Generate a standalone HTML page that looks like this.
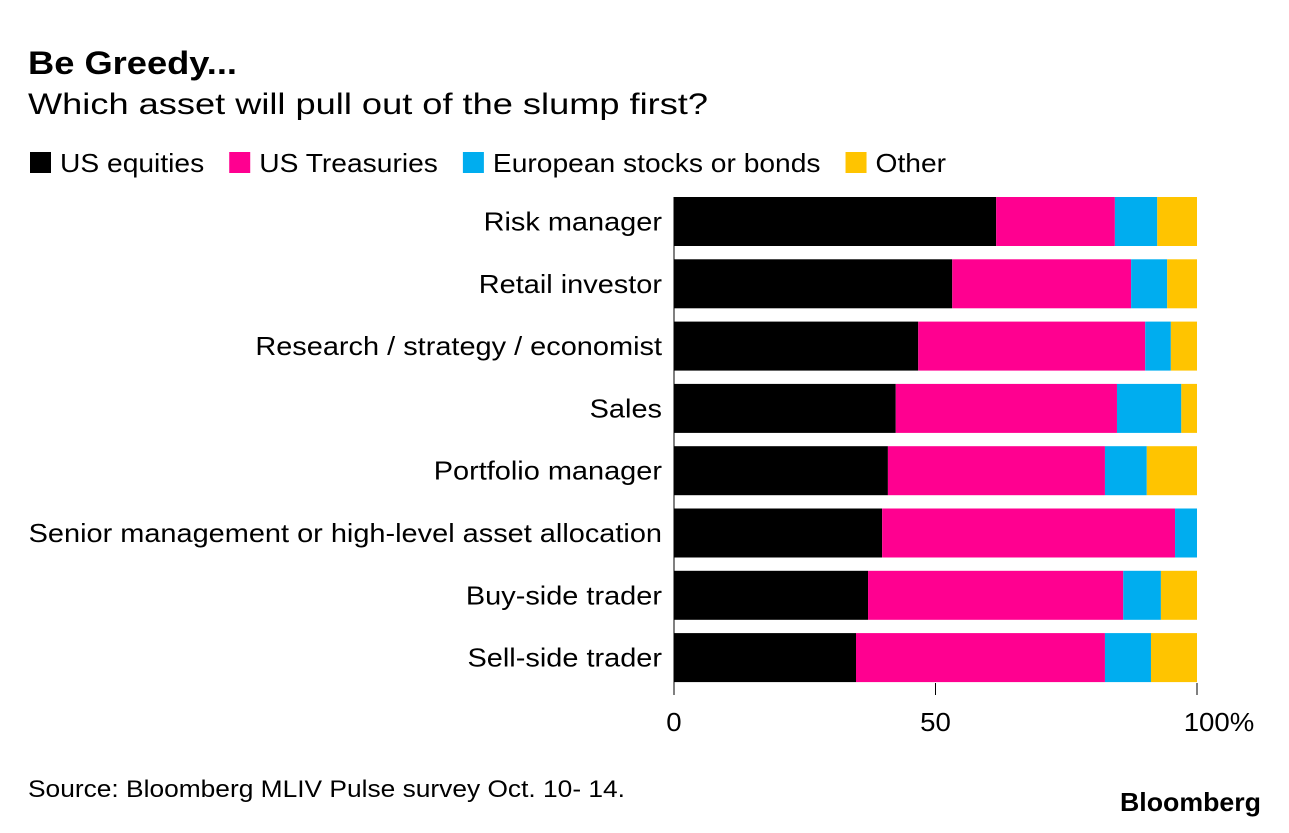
<!DOCTYPE html>
<html><head><meta charset="utf-8"><style>
body{margin:0;background:#fff;font-family:"Liberation Sans",sans-serif;}
svg text{font-family:"Liberation Sans",sans-serif;}
</style></head><body>
<svg id="c" width="1289" height="828" xmlns="http://www.w3.org/2000/svg">
<text x="28" y="74" font-size="32" font-weight="bold" fill="#000" textLength="209" lengthAdjust="spacingAndGlyphs">Be Greedy...</text>
<text x="28" y="114" font-size="30" fill="#000" textLength="680" lengthAdjust="spacingAndGlyphs">Which asset will pull out of the slump first?</text>
<g id="legend"></g>
<g id="bars"></g>
<g id="axis"></g>
<text x="28" y="797" font-size="24" fill="#000" textLength="597" lengthAdjust="spacingAndGlyphs">Source: Bloomberg MLIV Pulse survey Oct. 10- 14.</text>
<text x="1261" y="811" font-size="26" font-weight="bold" text-anchor="end" fill="#000" textLength="141" lengthAdjust="spacingAndGlyphs">Bloomberg</text>
</svg>
<script>
const categories=["Risk manager","Retail investor","Research / strategy / economist","Sales","Portfolio manager","Senior management or high-level asset allocation","Buy-side trader","Sell-side trader"];
const seriesNames=["US equities","US Treasuries","European stocks or bonds","Other"];
const usEquities=[61.6,53.2,46.7,42.4,40.9,39.8,37.1,34.8];
const usTreasuries=[22.7,34.2,43.4,42.3,41.5,56.0,48.8,47.6];
const european=[8.1,6.9,4.9,12.3,8.0,4.2,7.2,8.8];
const other=[7.6,5.7,5.0,3.0,9.6,0,6.9,8.8];
const ticks=[0,50,100];
const tickLabels=["0","50","100%"];
const colors=["#000000","#ff0090","#00adef","#ffc400"];
const ns="http://www.w3.org/2000/svg";
const x0=674,x1=1197,top0=197,pitch=62.3,bh=49;
const xs=v=>x0+(x1-x0)*v/100;
function mk(t,a,p){const e=document.createElementNS(ns,t);for(const k in a)e.setAttribute(k,a[k]);p.appendChild(e);return e;}
function stretch(t,K){const w=t.getComputedTextLength()*K;t.setAttribute('textLength',w);t.setAttribute('lengthAdjust','spacingAndGlyphs');return w;}
const series=[usEquities,usTreasuries,european,other];
const bars=document.getElementById('bars');
categories.forEach((c,i)=>{
  const y=top0+i*pitch;
  const t=mk('text',{x:662,y:y+bh/2+9,'font-size':26,'text-anchor':'end',fill:'#000'},bars);
  t.textContent=c;
  
  
  stretch(t,1.205*24/26);
  let acc=0;
  series.forEach((s,j)=>{
    const r=mk('rect',{x:xs(acc),y:y,width:Math.max(0,xs(acc+s[i])-xs(acc)),height:bh,fill:colors[j]},bars);
    
    
    acc+=s[i];
  });
});
const ax=document.getElementById('axis');
ticks.forEach((v,i)=>{
  const l=mk('line',{x1:xs(v),x2:xs(v),y1:i==0?197:683,y2:695,stroke:'#000','stroke-width':1},ax);
  
  
  const t=mk('text',{x:xs(v)+(i==2?22:0),y:731,'font-size':26,'text-anchor':'middle',fill:'#000'},ax);
  t.textContent=tickLabels[i];
  
  
  stretch(t,1.15*24/26);
});
const lg=document.getElementById('legend');
let lx=30;
seriesNames.forEach((n,j)=>{
  const r=mk('rect',{x:lx,y:152,width:21,height:21,fill:colors[j]},lg);
  
  
  const t=mk('text',{x:lx+30,y:172,'font-size':26,fill:'#000'},lg);
  t.textContent=n;
  
  
  const w=stretch(t,1.175*24/26);
  lx+=30+w+25;
});
</script>
</body></html>
